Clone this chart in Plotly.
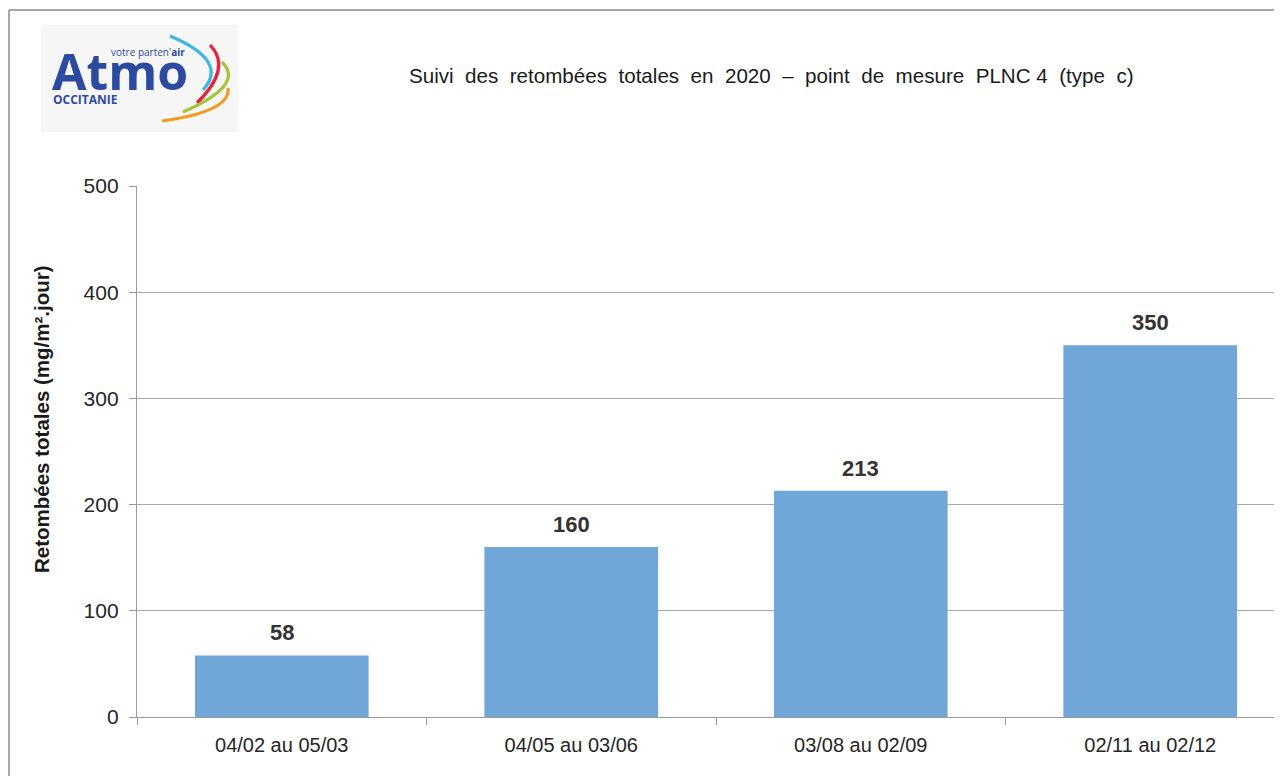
import plotly.graph_objects as go

categories = ["04/02 au 05/03", "04/05 au 03/06", "03/08 au 02/09", "02/11 au 02/12"]
values = [58, 160, 213, 350]
y_ticks = [0, 100, 200, 300, 400, 500]

title_text = "Suivi  des  retombées  totales  en  2020  –  point  de  mesure  PLNC 4  (type  c)"
y_title = "Retombées totales (mg/m².jour)"

# the page adds an 8px body margin; work in reference-pixel coordinates and shift
OFF = 8
W, H = 1282 - OFF, 776 - OFF
L, R, T, B = 137 - OFF, 0, 186 - OFF, 59
PW = W - L - R
PH = H - T - B

def px(x):
    return (x - OFF - L) / PW

def py(y):
    return (H - B - (y - OFF)) / PH

FONT = "Liberation Sans, Arial, sans-serif"

fig = go.Figure()
fig.add_trace(go.Bar(
    x=list(range(len(categories))),
    y=values,
    width=0.6,
    marker=dict(color="#71a6d9", line=dict(width=0)),
    hoverinfo="skip",
))

shapes = []
shapes.append(dict(type="line", xref="paper", yref="paper",
                   x0=px(9), x1=px(9), y0=py(10), y1=py(790),
                   line=dict(color="#8a8a8a", width=1.5)))
shapes.append(dict(type="line", xref="paper", yref="paper",
                   x0=px(9), x1=px(1290), y0=py(10), y1=py(10),
                   line=dict(color="#8a8a8a", width=1.5)))
shapes.append(dict(type="rect", xref="paper", yref="paper",
                   x0=px(41), x1=px(238), y0=py(132), y1=py(25),
                   fillcolor="#f6f6f6", line=dict(width=0), layer="below"))

def qcurve(p0, pm, p1, color):
    cx = 2 * pm[0] - (p0[0] + p1[0]) / 2
    cy = 2 * pm[1] - (p0[1] + p1[1]) / 2
    path = "M {},{} Q {},{} {},{}".format(px(p0[0]), py(p0[1]), px(cx), py(cy), px(p1[0]), py(p1[1]))
    return dict(type="path", xref="paper", yref="paper", path=path,
                line=dict(color=color, width=3.2))

shapes.append(qcurve((170, 36), (208, 62), (203, 90), "#3bb6e6"))
shapes.append(qcurve((210, 45), (218, 71), (197, 103), "#e3253c"))
shapes.append(qcurve((222, 62), (224, 86), (183, 112), "#a5c63b"))
shapes.append(qcurve((228, 88), (213, 108), (162, 121), "#f39a1e"))

annotations = []
annotations.append(dict(text="Atmo", xref="paper", yref="paper",
                        x=px(50), y=py(71), xanchor="left", yanchor="middle",
                        showarrow=False,
                        font=dict(family="Open Sans, Liberation Sans, sans-serif", size=50, color="#2c4a9f", weight="bold")))
annotations.append(dict(text="votre parten'<b>air</b>", xref="paper", yref="paper",
                        x=px(109), y=py(52), xanchor="left", yanchor="middle",
                        showarrow=False,
                        font=dict(family="Open Sans, Liberation Sans, sans-serif", size=10, color="#2c4a9f")))
annotations.append(dict(text="<b>OCCITANIE</b>", xref="paper", yref="paper",
                        x=px(51), y=py(99), xanchor="left", yanchor="middle",
                        showarrow=False,
                        font=dict(family="Open Sans, Liberation Sans, sans-serif", size=12, color="#2c4a9f")))
annotations.append(dict(text=title_text, xref="paper", yref="paper",
                        x=px(771), y=py(75), xanchor="center", yanchor="middle",
                        showarrow=False,
                        font=dict(family=FONT, size=20.6, color="#1a1a1a")))
annotations.append(dict(text="<b>" + y_title + "</b>", xref="paper", yref="paper",
                        x=px(41), y=py(419), xanchor="center", yanchor="middle",
                        textangle=-90, showarrow=False,
                        font=dict(family=FONT, size=20.5, color="#1a1a1a")))
for i, v in enumerate(values):
    annotations.append(dict(text="<b>{}</b>".format(v), x=i, y=v, xref="x", yref="y",
                            xanchor="center", yanchor="bottom", yshift=8,
                            showarrow=False,
                            font=dict(family=FONT, size=22, color="#333333")))

fig.update_layout(
    width=W, height=H,
    margin=dict(l=L, r=R, t=T, b=B, pad=0),
    paper_bgcolor="white", plot_bgcolor="white",
    showlegend=False,
    shapes=shapes,
    annotations=annotations,
)
fig.update_xaxes(
    range=[-0.5, 3.5 - 13 / 289.5],
    tickmode="array",
    tickvals=list(range(len(categories))),
    ticktext=categories,
    showgrid=False,
    showline=True, linecolor="#9a9a9a", linewidth=1.3,
    ticks="",
    tickfont=dict(family=FONT, size=20, color="#262626"),
    ticklabelstandoff=10,
    zeroline=False,
    fixedrange=True,
)
fig.update_xaxes(minor=dict(tickmode="array", tickvals=[-0.5, 0.5, 1.5, 2.5, 3.5],
                            ticks="outside", ticklen=7, tickcolor="#9a9a9a", tickwidth=1.3,
                            showgrid=False))
fig.update_yaxes(
    range=[0, 500],
    tickmode="array", tickvals=y_ticks,
    showgrid=True, gridcolor="#a8a8a8", gridwidth=1.1,
    showline=True, linecolor="#9a9a9a", linewidth=1.3,
    ticks="outside", ticklen=7, tickcolor="#9a9a9a", tickwidth=1.3,
    tickfont=dict(family=FONT, size=21, color="#262626"),
    ticklabelstandoff=6,
    zeroline=False,
    fixedrange=True,
)

fig.write_html("out.html")
